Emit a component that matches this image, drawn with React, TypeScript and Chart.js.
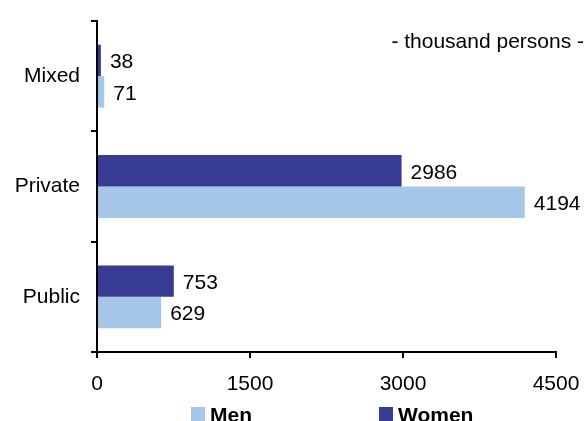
import React, { useEffect, useRef } from "react";
import { Chart, registerables } from "chart.js";

Chart.register(...registerables);

const categories = ["Mixed", "Private", "Public"];
const womenValues = [38, 2986, 753];
const menValues = [71, 4194, 629];
const xTicks = [0, 1500, 3000, 4500];
const unitNote = "- thousand persons -";

const DARK = "#383B93";
const LIGHT = "#A7C7E8";
const FONT = "'Liberation Sans', Arial, sans-serif";

export default function App() {
  const ref = useRef<HTMLCanvasElement | null>(null);

  useEffect(() => {
    if (!ref.current) return;
    const labelPlugin = {
      id: "valueLabels",
      afterDatasetsDraw(chart: any) {
        const ctx = chart.ctx;
        ctx.save();
        ctx.fillStyle = "#000";
        ctx.font = `21px ${FONT}`;
        ctx.textAlign = "left";
        ctx.textBaseline = "middle";
        chart.data.datasets.forEach((ds: any, di: number) => {
          const meta = chart.getDatasetMeta(di);
          meta.data.forEach((el: any, i: number) => {
            ctx.fillText(String(ds.data[i]), el.x + 9, el.y + 2);
          });
        });
        ctx.restore();
      },
      afterDraw(chart: any) {
        const ctx = chart.ctx;
        ctx.save();
        ctx.fillStyle = "#000";
        ctx.font = `21px ${FONT}`;
        ctx.textAlign = "right";
        ctx.textBaseline = "alphabetic";
        ctx.fillText(unitNote, 584, 48);
        const items = [
          { label: "Men", color: LIGHT, x: 191 },
          { label: "Women", color: DARK, x: 379 },
        ];
        ctx.font = `bold 21px ${FONT}`;
        ctx.textAlign = "left";
        items.forEach((it) => {
          ctx.fillStyle = it.color;
          ctx.fillRect(it.x, 407, 14, 14);
          ctx.fillStyle = "#000";
          ctx.fillText(it.label, it.x + 19, 422);
        });
        ctx.restore();
      },
    };

    const chart = new Chart(ref.current, {
      type: "bar",
      data: {
        labels: categories,
        datasets: [
          { label: "Women", data: womenValues, backgroundColor: DARK, borderWidth: 0 },
          { label: "Men", data: menValues, backgroundColor: LIGHT, borderWidth: 0 },
        ],
      },
      options: {
        indexAxis: "y",
        responsive: false,
        animation: false,
        layout: { padding: { top: 21, right: 28, left: 0, bottom: 0 } },
        plugins: {
          legend: { display: false },
          tooltip: { enabled: false },
        },
        datasets: {
          bar: { categoryPercentage: 0.57, barPercentage: 1 },
        },
        scales: {
          x: {
            type: "linear",
            min: 0,
            max: 4500,
            afterBuildTicks(scale: any) {
              scale.ticks = xTicks.map((v) => ({ value: v }));
            },
            afterFit(scale: any) {
              scale.height = 69;
              scale.paddingLeft = 0;
              scale.paddingRight = 0;
            },
            grid: {
              drawOnChartArea: false,
              drawTicks: true,
              tickLength: 6,
              color: "#000",
              lineWidth: 2,
            },
            border: { display: true, color: "#000", width: 2 },
            ticks: {
              color: "#000",
              font: { family: FONT, size: 21 },
              padding: 14,
              maxRotation: 0,
              callback: (v: any) => String(v),
            },
          },
          y: {
            type: "category",
            afterFit(scale: any) {
              scale.width = 97;
              scale.paddingTop = 0;
              scale.paddingBottom = 0;
            },
            grid: {
              drawOnChartArea: false,
              drawTicks: true,
              tickLength: 6,
              color: "#000",
              lineWidth: 2,
              offset: true,
            },
            border: { display: true, color: "#000", width: 2 },
            ticks: {
              color: "#000",
              font: { family: FONT, size: 21 },
              padding: 11,
            },
          },
        },
      },
      plugins: [labelPlugin],
    } as any);
    return () => chart.destroy();
  }, []);

  return (
    <div style={{ position: "fixed", left: 0, top: 0, width: 584, height: 421, background: "#fff" }}>
      <canvas ref={ref} width={584} height={421} style={{ display: "block" }} />
    </div>
  );
}
